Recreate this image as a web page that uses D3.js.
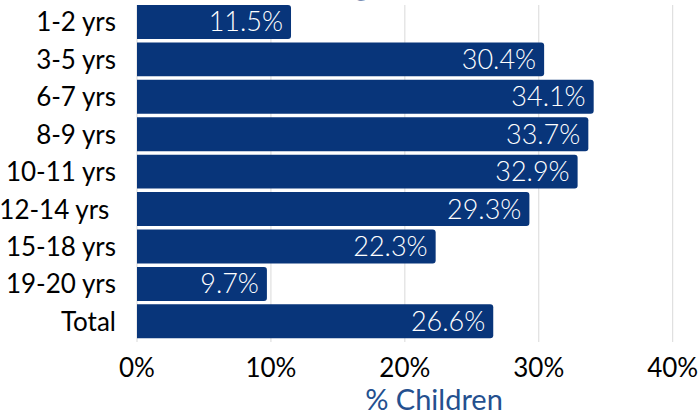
<html>
<head>
    <title>Children by age</title>
    <script src="https://d3js.org/d3.v7.min.js"></script>
    <style>
      body { margin: 0; background: #fff; }
      text { font-family: Lato, "Open Sans", sans-serif; }
    </style>
</head>
<body>
<script>
    // data
    var ageGroups = ["1-2 yrs", "3-5 yrs", "6-7 yrs", "8-9 yrs", "10-11 yrs", "12-14 yrs ", "15-18 yrs", "19-20 yrs", "Total"];
    var pctChildren = [11.5, 30.4, 34.1, 33.7, 32.9, 29.3, 22.3, 9.7, 26.6];
    var tickValues = [0, 10, 20, 30, 40];
    var tickLabels = ["0%", "10%", "20%", "30%", "40%"];

    var width = 699, height = 415;
    var navy = "#08357a";

    var svg = d3.select("body").append("svg")
                .attr("width", width)
                .attr("height", height);

    var x = d3.scaleLinear().domain([0, 40]).range([137, 672.7]);
    var y = d3.scaleBand().domain(ageGroups).range([3.3, 340])
              .paddingInner(0.093).paddingOuter(0.045);

    // title, mostly above the visible area
    svg.append("text")
       .attr("x", 271).attr("y", -7)
       .attr("font-size", 44).attr("font-weight", "bold")
       .attr("fill", navy)
       .text("by age");

    // gridlines
    svg.append("g").selectAll("line")
       .data(tickValues).enter().append("line")
       .attr("x1", function(d){ return x(d); })
       .attr("x2", function(d){ return x(d); })
       .attr("y1", 5).attr("y2", 342)
       .attr("stroke", "#d9d9d9").attr("stroke-width", 1);

    // bars with rounded right end
    function barPath(d, i) {
      var x0 = x(0), x1 = x(d), y0 = y(ageGroups[i]), h = y.bandwidth(), r = 3;
      return "M" + x0 + "," + y0 + " H" + (x1 - r) +
             " Q" + x1 + "," + y0 + " " + x1 + "," + (y0 + r) +
             " V" + (y0 + h - r) +
             " Q" + x1 + "," + (y0 + h) + " " + (x1 - r) + "," + (y0 + h) +
             " H" + x0 + " Z";
    }
    svg.append("g").selectAll("path")
       .data(pctChildren).enter().append("path")
       .attr("d", barPath)
       .attr("fill", navy);

    // value labels
    svg.append("g").selectAll("text")
       .data(pctChildren).enter().append("text")
       .attr("x", function(d){ return x(d) - 8; })
       .attr("y", function(d, i){ return y(ageGroups[i]) + y.bandwidth() / 2 + 9.5; })
       .attr("text-anchor", "end")
       .attr("font-size", 27)
       .attr("font-weight", 300)
       .attr("fill", "#fff")
       .text(function(d){ return d.toFixed(1) + "%"; });

    // category labels
    svg.append("g").selectAll("text")
       .data(ageGroups).enter().append("text")
       .attr("x", 116)
       .attr("y", function(d){ return y(d) + y.bandwidth() / 2 + 9.5; })
       .attr("text-anchor", "end")
       .attr("font-size", 26)
       .attr("fill", "#000")
       .style("white-space", "pre")
       .text(function(d){ return d; });

    // x tick labels
    svg.append("g").selectAll("text")
       .data(tickValues).enter().append("text")
       .attr("x", function(d){ return x(d); })
       .attr("y", 377)
       .attr("text-anchor", "middle")
       .attr("font-size", 26)
       .attr("fill", "#000")
       .text(function(d, i){ return tickLabels[i]; });

    // axis title
    svg.append("text")
       .attr("x", 434).attr("y", 410)
       .attr("text-anchor", "middle")
       .attr("font-size", 29)
       .attr("fill", "#24508f")
       .text("% Children");
</script>
</body>
</html>
